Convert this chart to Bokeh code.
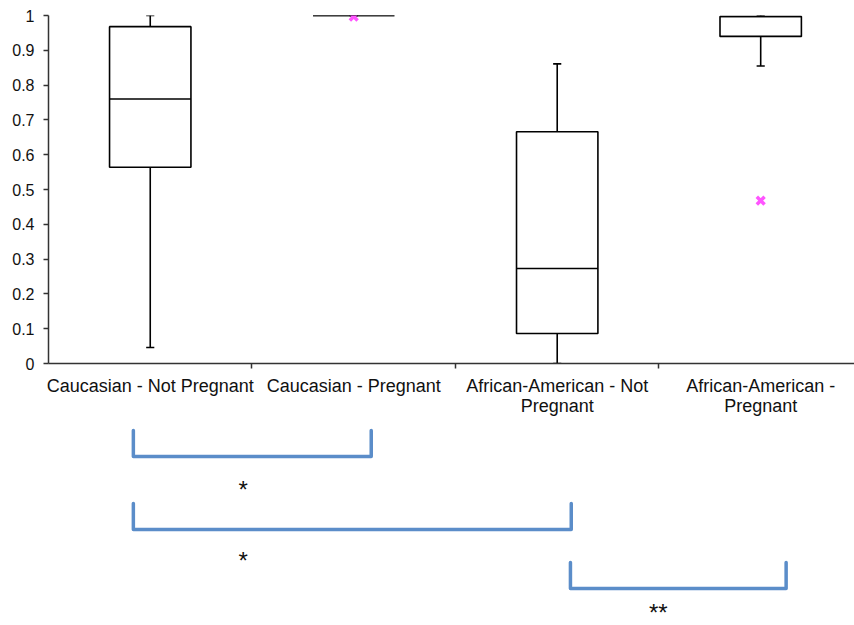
from bokeh.plotting import figure
from bokeh.models import FixedTicker, Range1d, ColumnDataSource
from bokeh.layouts import column
from bokeh.core.properties import value
from bokeh.embed import file_html
from bokeh.resources import INLINE

# ---------------- data ----------------
categories = ["Caucasian - Not Pregnant", "Caucasian - Pregnant",
              "African-American - Not\nPregnant", "African-American -\nPregnant"]
whisker_low = [0.046, 1.0, 0.0, 0.855]
q1 = [0.564, 1.0, 0.086, 0.940]
median = [0.760, 1.0, 0.273, 0.997]
q3 = [0.968, 1.0, 0.666, 0.997]
whisker_high = [1.0, 1.0, 0.861, 1.0]
outlier_group = [1, 3]
outlier_value = [0.997, 0.468]
y_ticks = [0, 0.1, 0.2, 0.3, 0.4, 0.5, 0.6, 0.7, 0.8, 0.9, 1]

# significance brackets (x in category units, comparing groups)
bracket_start = [0.417, 0.417, 2.565]
bracket_end = [1.586, 2.569, 3.625]
sig_labels = ["*", "*", "**"]
sig_x = [0.957, 0.957, 2.997]

# ---------------- layout ----------------
FONT = "Liberation Sans"
BOX_W = 0.4
CAP_W = 0.04
W = 854
TOP_H = 423
x_end = 3.961

n = len(categories)
centers = [i + 0.5 for i in range(n)]

p = figure(width=W, height=TOP_H, output_backend="svg", toolbar_location=None,
           x_range=Range1d(0, x_end), y_range=Range1d(0, 1.0),
           min_border_left=48, min_border_right=0, min_border_top=15, min_border_bottom=60)
p.outline_line_color = None
p.xgrid.visible = False
p.ygrid.visible = False
p.background_fill_color = "white"

src = ColumnDataSource(dict(x=centers, lo=whisker_low, q1=q1, med=median, q3=q3, hi=whisker_high,
                            cl=[c - CAP_W / 2 for c in centers], cr=[c + CAP_W / 2 for c in centers],
                            bl=[c - BOX_W / 2 for c in centers], br=[c + BOX_W / 2 for c in centers]))
# whiskers
p.segment(x0="x", y0="q3", x1="x", y1="hi", source=src, line_color="black", line_width=1.6)
p.segment(x0="x", y0="lo", x1="x", y1="q1", source=src, line_color="black", line_width=1.6)
p.segment(x0="cl", y0="hi", x1="cr", y1="hi", source=src, line_color="black", line_width=1.6)
p.segment(x0="cl", y0="lo", x1="cr", y1="lo", source=src, line_color="black", line_width=1.6)
# boxes
p.quad(left="bl", right="br", bottom="q1", top="q3", source=src,
       fill_color="white", line_color="black", line_width=1.6)
p.segment(x0="bl", y0="med", x1="br", y1="med", source=src, line_color="black", line_width=1.6)
# outliers
p.scatter(x=[centers[g] for g in outlier_group], y=outlier_value, marker="x", size=11,
          line_color="#ff55ff", line_width=3.5)

# axes
p.yaxis.ticker = FixedTicker(ticks=y_ticks)
p.yaxis.major_label_overrides = {t: ("%g" % t) for t in y_ticks}
p.yaxis.bounds = (0, 1)
p.yaxis.minor_tick_line_color = None
p.yaxis.major_tick_in = 0
p.yaxis.major_tick_out = 5
p.yaxis.axis_line_color = "#333333"
p.yaxis.axis_line_width = 1.5
p.yaxis.major_tick_line_color = "#333333"
p.yaxis.major_tick_line_width = 1.5
p.yaxis.major_label_text_font = FONT
p.yaxis.major_label_text_font_size = "16px"
p.yaxis.major_label_text_color = "#111111"
p.yaxis.major_label_standoff = 9

p.xaxis.ticker = FixedTicker(ticks=centers, minor_ticks=[1, 2, 3])
p.xaxis.major_label_overrides = {c: lab for c, lab in zip(centers, categories)}
p.xaxis.major_tick_line_color = None
p.xaxis.major_tick_out = 0
p.xaxis.major_tick_in = 0
p.xaxis.minor_tick_in = 0
p.xaxis.minor_tick_out = 5
p.xaxis.minor_tick_line_color = "#333333"
p.xaxis.minor_tick_line_width = 1.5
p.xaxis.axis_line_color = "#333333"
p.xaxis.axis_line_width = 1.5
p.xaxis.major_label_text_font = FONT
p.xaxis.major_label_text_font_size = "18px"
p.xaxis.major_label_text_line_height = 1.0
p.xaxis.major_label_text_color = "#111111"
p.xaxis.major_label_standoff = 7

# ---------------- significance brackets ----------------
BH = 625 - TOP_H
bracket_top = [7, 80, 139]
bracket_bottom = [33, 106, 165]
label_y = [66, 137, 189]

q = figure(width=W, height=BH, output_backend="svg", toolbar_location=None,
           x_range=p.x_range, y_range=Range1d(BH, 0),
           min_border_left=48, min_border_right=0, min_border_top=0, min_border_bottom=0,
           x_axis_location=None, y_axis_location=None)
q.outline_line_color = None
q.xgrid.visible = False
q.ygrid.visible = False

xs = [[a, a, b, b] for a, b in zip(bracket_start, bracket_end)]
ys = [[t, bt, bt, t] for t, bt in zip(bracket_top, bracket_bottom)]
q.multi_line(xs=xs, ys=ys, line_color="#5b8dc9", line_width=3.5, line_join="round", line_cap="round")
q.text(x=sig_x, y=label_y, text=sig_labels, text_font=value(FONT), text_font_size="24px",
       text_align="center", text_baseline="middle", text_color="#111111")

layout = column(p, q, spacing=0)
open("out.html", "w").write(file_html(layout, INLINE))
